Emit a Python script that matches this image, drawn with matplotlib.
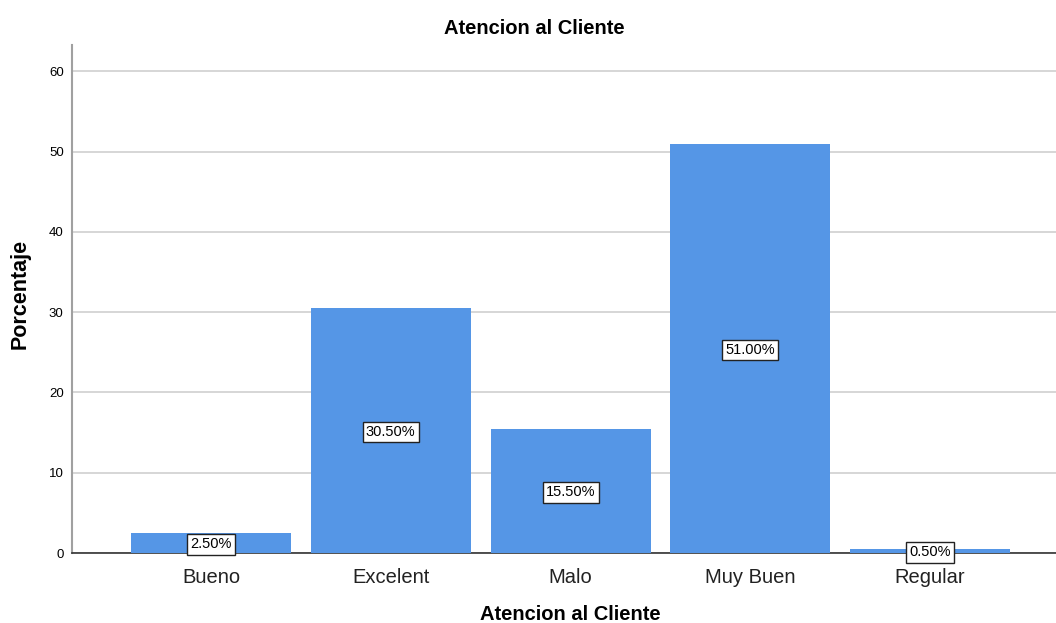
import matplotlib
matplotlib.use("Agg")
import matplotlib.pyplot as plt

plt.rcParams['font.family'] = ['Liberation Sans', 'DejaVu Sans']

categories = ["Bueno", "Excelent", "Malo", "Muy Buen", "Regular"]
values = [2.5, 30.5, 15.5, 51.0, 0.5]
labels = ["2.50%", "30.50%", "15.50%", "51.00%", "0.50%"]
yticks = [0, 10, 20, 30, 40, 50, 60]

W, H = 1056, 623
fig = plt.figure(figsize=(W / 100, H / 100), dpi=100)
ax = fig.add_axes([72 / W, (H - 553) / H, 1 - 72 / W, (553 - 45) / H])

x = list(range(len(categories)))
ax.bar(x, values, width=0.89, color="#5596E6", zorder=3)
for xi, v, lab in zip(x, values, labels):
    ax.text(xi, v / 2, lab, ha="center", va="center_baseline", fontsize=10.5, zorder=5,
            bbox=dict(boxstyle="square,pad=0.22", facecolor="white", edgecolor="#222222", linewidth=1))

ax.set_xlim(-0.773, 4.70)
ax.set_ylim(0, 63.3)
ax.set_yticks(yticks)
ax.set_yticklabels([str(t) for t in yticks], fontsize=9.5)
ax.set_xticks(x)
ax.set_xticklabels(categories, fontsize=14.5, color="#222222")
ax.tick_params(axis="both", length=0)
ax.tick_params(axis="y", pad=6)
ax.tick_params(axis="x", pad=10.5)
ax.grid(axis="y", color="#CFCFCF", linewidth=1.2, zorder=0)
for s in ["top", "right"]:
    ax.spines[s].set_visible(False)
ax.spines["left"].set_color("#A0A0A0")
ax.spines["left"].set_linewidth(1.5)
ax.spines["bottom"].set_color("#333333")
ax.spines["bottom"].set_linewidth(1.2)

fig.text(534 / W, 1 - 29 / H, "Atencion al Cliente", ha="center", va="center", fontsize=14.5, fontweight="bold")
fig.text(570 / W, 1 - 614 / H, "Atencion al Cliente", ha="center", va="center", fontsize=14.5, fontweight="bold")
fig.text(20 / W, 1 - 294 / H, "Porcentaje", ha="center", va="center", rotation=90, fontsize=15.5, fontweight="bold")

fig.savefig("out.png", dpi=100)
